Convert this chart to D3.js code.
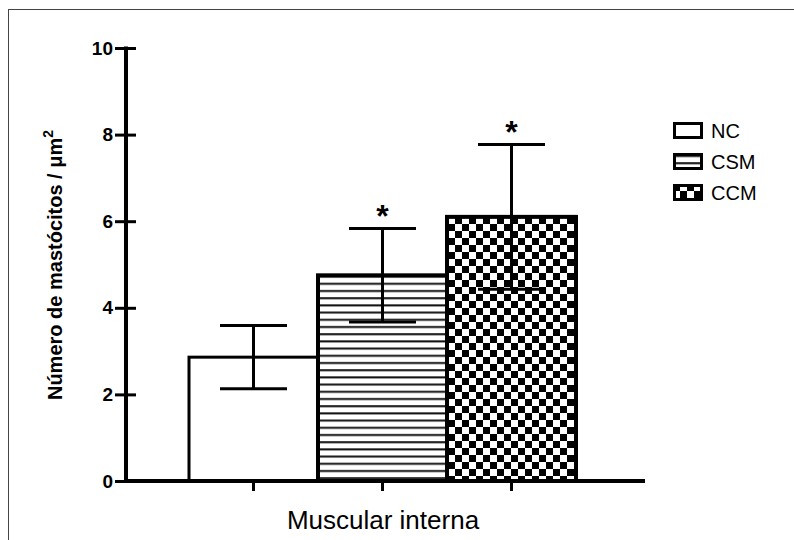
<!DOCTYPE html>
<html>
<head>
<meta charset="utf-8">
<script src="https://cdn.jsdelivr.net/npm/d3@7"></script>
<style>
  body { margin: 0; background: #fff; }
  svg { font-family: "Liberation Sans", Arial, sans-serif; }
</style>
</head>
<body>
<svg id="chart" width="794" height="540"></svg>
<script>
// Data
var groups = ["NC", "CSM", "CCM"];
var means = [2.86, 4.75, 6.1];
var errors = [0.73, 1.08, 1.67];
var stars = [false, true, true];
var yTicks = [0, 2, 4, 6, 8, 10];
var fills = ["white", "url(#hlines)", "url(#checker)"];

var svg = d3.select("#chart");

// outer frame
svg.append("rect")
  .attr("x", 8.5).attr("y", 9.5)
  .attr("width", 800).attr("height", 540)
  .attr("fill", "none").attr("stroke", "#444").attr("stroke-width", 1);

// patterns
var defs = svg.append("defs");
var hl = defs.append("pattern")
  .attr("id", "hlines").attr("patternUnits", "userSpaceOnUse")
  .attr("width", 8).attr("height", 7.2);
hl.append("rect").attr("width", 8).attr("height", 7.2).attr("fill", "white");
hl.append("rect").attr("y", 2).attr("width", 8).attr("height", 2).attr("fill", "#111");

var ck = defs.append("pattern")
  .attr("id", "checker").attr("patternUnits", "userSpaceOnUse")
  .attr("width", 14).attr("height", 14);
ck.append("rect").attr("width", 14).attr("height", 14).attr("fill", "white");
ck.append("rect").attr("width", 7).attr("height", 7).attr("fill", "black");
ck.append("rect").attr("x", 7).attr("y", 7).attr("width", 7).attr("height", 7).attr("fill", "black");

var y = d3.scaleLinear().domain([0, 10]).range([481, 48]);
var x = d3.scaleBand().domain(groups).range([189, 576]).paddingInner(0);

var g = svg.append("g");

// bars
g.selectAll("rect.bar")
  .data(groups)
  .enter().append("rect")
  .attr("class", "bar")
  .attr("x", d => x(d))
  .attr("y", (d, i) => y(means[i]))
  .attr("width", x.bandwidth())
  .attr("height", (d, i) => y(0) - y(means[i]))
  .attr("fill", (d, i) => fills[i])
  .attr("stroke", "black")
  .attr("stroke-width", (d, i) => i === 0 ? 3 : 4);

// error bars
var capW = 67;
groups.forEach(function(d, i) {
  var cx = x(d) + x.bandwidth() / 2;
  var top = y(means[i] + errors[i]);
  var bot = y(means[i] - errors[i]);
  g.append("line").attr("x1", cx).attr("x2", cx).attr("y1", top).attr("y2", bot)
    .attr("stroke", "black").attr("stroke-width", 3);
  [top, bot].forEach(function(v) {
    g.append("line").attr("x1", cx - capW / 2).attr("x2", cx + capW / 2)
      .attr("y1", v).attr("y2", v)
      .attr("stroke", "black").attr("stroke-width", 3);
  });
  if (stars[i]) {
    g.append("text").attr("x", cx).attr("y", top - 2)
      .attr("text-anchor", "middle")
      .attr("font-size", 32).attr("font-weight", "bold")
      .text("*");
  }
});

// y axis
var yAxis = d3.axisLeft(y).tickValues(yTicks).tickSize(11).tickPadding(3);
var ya = svg.append("g").attr("transform", "translate(126,0)").call(yAxis);
ya.select(".domain").remove();
ya.selectAll(".tick line").attr("x2", -11).attr("x1", 10)
  .attr("stroke", "black").attr("stroke-width", 3);
ya.selectAll(".tick text").attr("font-size", 19).attr("font-weight", "bold")
  .attr("font-family", "Liberation Sans, Arial, sans-serif").attr("fill", "black")
  .attr("x", -13);
svg.append("line").attr("x1", 126).attr("x2", 126).attr("y1", y(10) - 1.5).attr("y2", y(0) + 1.5)
  .attr("stroke", "black").attr("stroke-width", 4);

// x axis
var xa = svg.append("g").attr("transform", "translate(0,481)")
  .call(d3.axisBottom(x).tickSize(10).tickFormat(""));
xa.select(".domain").remove();
xa.selectAll(".tick line").attr("stroke", "black").attr("stroke-width", 3);
svg.append("line").attr("x1", 124).attr("x2", 645).attr("y1", 481).attr("y2", 481)
  .attr("stroke", "black").attr("stroke-width", 4);

// axis titles
svg.append("text")
  .attr("x", 383).attr("y", 529)
  .attr("text-anchor", "middle").attr("font-size", 26)
  .text("Muscular interna");

var yt = svg.append("text")
  .attr("transform", "translate(62,265) rotate(-90)")
  .attr("text-anchor", "middle").attr("font-size", 20).attr("font-weight", "bold");
yt.append("tspan").text("Número de mastócitos / μm");
yt.append("tspan").attr("dy", -9).attr("font-size", 14).text("2");

// legend
var leg = svg.append("g").attr("transform", "translate(673,122)");
groups.forEach(function(d, i) {
  var row = leg.append("g").attr("transform", "translate(0," + (i * 31) + ")");
  row.append("rect").attr("x", 1.5).attr("y", 1.5).attr("width", 27).attr("height", 14)
    .attr("fill", i === 2 ? "url(#checker)" : fills[i])
    .attr("stroke", "black").attr("stroke-width", 3);
  row.append("text").attr("x", 38).attr("y", 16)
    .attr("font-size", 20).text(d);
});
</script>
</body>
</html>
